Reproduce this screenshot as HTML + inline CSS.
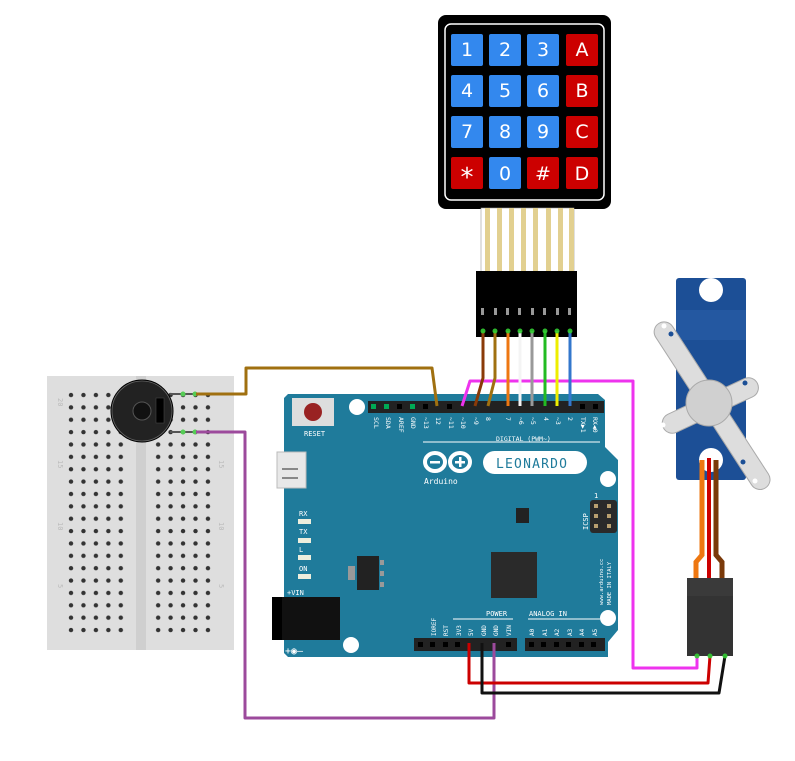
<!DOCTYPE html>
<html><head><meta charset="utf-8"><style>
html,body{margin:0;padding:0;background:#fff;width:795px;height:761px;overflow:hidden}
svg{display:block}
text{font-family:"DejaVu Sans Mono","Liberation Mono",monospace}
text.k{font-family:"DejaVu Sans","Liberation Sans",sans-serif}
</style></head><body>
<svg width="795" height="761" viewBox="0 0 795 761" xmlns="http://www.w3.org/2000/svg">
<defs>
<pattern id="holes" x="65" y="389" width="12.45" height="12.37" patternUnits="userSpaceOnUse">
<circle cx="6" cy="6" r="2.2" fill="#333"/>
</pattern>
</defs>

<!-- Breadboard -->
<rect x="47" y="376" width="187" height="274" fill="#dedede"/>
<rect x="136" y="376" width="10" height="274" fill="#cfcfcf"/>
<rect x="65" y="389" width="62" height="248" fill="url(#holes)"/>
<rect x="152" y="389" width="62" height="248" fill="url(#holes)"/>
<g fill="#bbb" font-size="7">
<text x="58" y="398" transform="rotate(90 58 398)">20</text>
<text x="58" y="460" transform="rotate(90 58 460)">15</text>
<text x="58" y="522" transform="rotate(90 58 522)">10</text>
<text x="58" y="584" transform="rotate(90 58 584)">5</text>
<text x="219" y="460" transform="rotate(90 219 460)">15</text>
<text x="219" y="522" transform="rotate(90 219 522)">10</text>
<text x="219" y="584" transform="rotate(90 219 584)">5</text>
</g>
<!-- buzzer -->
<circle cx="142" cy="411" r="31" fill="#222" stroke="#000"/>
<circle cx="142" cy="411" r="30" fill="none" stroke="#666" stroke-width="0.8"/>
<circle cx="142" cy="411" r="9" fill="#111" stroke="#555"/>
<rect x="156" y="398" width="8" height="25" fill="#000" stroke="#444" stroke-width="0.6"/>
<line x1="170" y1="394" x2="195" y2="394" stroke="#555" stroke-width="2"/>
<line x1="170" y1="432" x2="195" y2="432" stroke="#555" stroke-width="2"/>
<circle cx="183" cy="394" r="2.5" fill="#5c5"/><circle cx="195" cy="394" r="2.5" fill="#5c5"/>
<circle cx="183" cy="432" r="2.5" fill="#5c5"/><circle cx="195" cy="432" r="2.5" fill="#5c5"/>

<!-- Arduino board -->
<polygon points="284,398 288,394 598,394 605,400 605,447 618,460 618,630 608,642 608,657 288,657 284,653" fill="#1f7b9b"/>
<circle cx="357" cy="407" r="8" fill="#fff"/>
<circle cx="608" cy="479" r="8" fill="#fff"/>
<circle cx="608" cy="618" r="8" fill="#fff"/>
<circle cx="351" cy="645" r="8" fill="#fff"/>
<rect x="292" y="398" width="42" height="28" fill="#ddd"/>
<circle cx="313" cy="412" r="9" fill="#992222"/>
<text x="304" y="436" font-size="7" fill="#fff">RESET</text>
<rect x="277" y="452" width="29" height="36" fill="#e8e8e8" stroke="#bbb"/>
<rect x="282" y="468" width="16" height="2" fill="#888"/><rect x="282" y="477" width="16" height="2" fill="#888"/>
<rect x="368" y="401" width="134" height="12" fill="#222"/>
<rect x="502" y="401" width="102" height="12" fill="#222"/>
<g fill="#000">
<rect x="371" y="404" width="5" height="5" fill="#0a5"/><rect x="384" y="404" width="5" height="5" fill="#0a5"/>
<rect x="397" y="404" width="5" height="5"/><rect x="410" y="404" width="5" height="5" fill="#0a5"/>
<rect x="423" y="404" width="5" height="5"/><rect x="447" y="404" width="5" height="5"/>
<rect x="580" y="404" width="5" height="5"/><rect x="593" y="404" width="5" height="5"/>
</g>
<g fill="#fff" font-size="6.5">
<text transform="translate(374,417) rotate(90)">SCL</text>
<text transform="translate(386,417) rotate(90)">SDA</text>
<text transform="translate(399,417) rotate(90)">AREF</text>
<text transform="translate(411,417) rotate(90)">GND</text>
<text transform="translate(424,417) rotate(90)">~13</text>
<text transform="translate(436,417) rotate(90)">12</text>
<text transform="translate(449,417) rotate(90)">~11</text>
<text transform="translate(461,417) rotate(90)">~10</text>
<text transform="translate(474,417) rotate(90)">~9</text>
<text transform="translate(486,417) rotate(90)">8</text>
<text transform="translate(506,417) rotate(90)">7</text>
<text transform="translate(519,417) rotate(90)">~6</text>
<text transform="translate(531,417) rotate(90)">~5</text>
<text transform="translate(544,417) rotate(90)">4</text>
<text transform="translate(556,417) rotate(90)">~3</text>
<text transform="translate(568,417) rotate(90)">2</text>
<text transform="translate(581,417) rotate(90)">TX▶1</text>
<text transform="translate(593,417) rotate(90)">RX◀0</text>
<text x="496" y="441" font-size="6.5">DIGITAL (PWM~)</text>
</g>
<line x1="423" y1="442" x2="600" y2="442" stroke="#fff" stroke-width="1"/>
<g fill="none" stroke="#fff" stroke-width="4">
<ellipse cx="435" cy="462" rx="10" ry="9"/><ellipse cx="460" cy="462" rx="10" ry="9"/>
</g>
<rect x="430" y="461" width="10" height="2.5" fill="#fff"/>
<rect x="455" y="461" width="10" height="2.5" fill="#fff"/><rect x="459" y="457" width="2.5" height="10" fill="#fff"/>
<text x="424" y="484" font-size="8" fill="#fff">Arduino</text>
<rect x="483" y="451" width="104" height="23" rx="11.5" fill="#fff"/>
<text x="496" y="468" font-size="13" fill="#1f7b9b" letter-spacing="1.2">LEONARDO</text>
<rect x="516" y="508" width="13" height="15" fill="#222"/>
<rect x="491" y="552" width="46" height="46" fill="#2a2a2a"/>
<rect x="348" y="566" width="7" height="14" fill="#999"/>
<rect x="357" y="556" width="22" height="34" fill="#222"/>
<rect x="380" y="560" width="4" height="5" fill="#999"/><rect x="380" y="571" width="4" height="5" fill="#999"/><rect x="380" y="582" width="4" height="5" fill="#999"/>
<g fill="#fff" font-size="7">
<text x="299" y="516">RX</text><rect x="298" y="519" width="13" height="5" fill="#eed"/>
<text x="299" y="534">TX</text><rect x="298" y="538" width="13" height="5" fill="#eed"/>
<text x="299" y="552">L</text><rect x="298" y="555" width="13" height="5" fill="#eed"/>
<text x="299" y="571">ON</text><rect x="298" y="574" width="13" height="5" fill="#eed"/>
<text x="287" y="595">+VIN</text>
<text x="285" y="654" font-size="10">+◉–</text>
</g>
<rect x="272" y="597" width="68" height="43" fill="#111"/>
<rect x="272" y="597" width="10" height="43" fill="#000"/>
<rect x="590" y="500" width="27" height="33" rx="3" fill="#2a2a2a"/>
<g fill="#b9a070"><rect x="594" y="504" width="4" height="4"/><rect x="607" y="504" width="4" height="4"/><rect x="594" y="514" width="4" height="4"/><rect x="607" y="514" width="4" height="4"/><rect x="594" y="524" width="4" height="4"/><rect x="607" y="524" width="4" height="4"/></g>
<g fill="#fff" font-size="7">
<text x="594" y="498">1</text>
<text transform="translate(588,530) rotate(-90)">ICSP</text>
<text font-size="5.5" transform="translate(603,605) rotate(-90)">www.arduino.cc</text>
<text font-size="5.5" transform="translate(611,605) rotate(-90)">MADE IN ITALY</text>
<text x="486" y="616">POWER</text>
<text x="529" y="616">ANALOG IN</text>
</g>
<line x1="453" y1="619" x2="513" y2="619" stroke="#fff"/>
<line x1="528" y1="619" x2="600" y2="619" stroke="#fff"/>
<g fill="#fff" font-size="6">
<text transform="translate(436,636) rotate(-90)">IOREF</text>
<text transform="translate(448,636) rotate(-90)">RST</text>
<text transform="translate(461,636) rotate(-90)">3V3</text>
<text transform="translate(473,636) rotate(-90)">5V</text>
<text transform="translate(486,636) rotate(-90)">GND</text>
<text transform="translate(498,636) rotate(-90)">GND</text>
<text transform="translate(511,636) rotate(-90)">VIN</text>
<text transform="translate(534,636) rotate(-90)">A0</text>
<text transform="translate(547,636) rotate(-90)">A1</text>
<text transform="translate(559,636) rotate(-90)">A2</text>
<text transform="translate(572,636) rotate(-90)">A3</text>
<text transform="translate(584,636) rotate(-90)">A4</text>
<text transform="translate(597,636) rotate(-90)">A5</text>
</g>
<rect x="414" y="638" width="103" height="13" fill="#222"/>
<rect x="525" y="638" width="80" height="13" fill="#222"/>
<g fill="#000">
<rect x="418" y="642" width="5" height="5"/><rect x="430" y="642" width="5" height="5"/><rect x="443" y="642" width="5" height="5"/><rect x="455" y="642" width="5" height="5"/><rect x="506" y="642" width="5" height="5"/>
<rect x="529" y="642" width="5" height="5"/><rect x="541" y="642" width="5" height="5"/><rect x="554" y="642" width="5" height="5"/><rect x="566" y="642" width="5" height="5"/><rect x="579" y="642" width="5" height="5"/><rect x="591" y="642" width="5" height="5"/>
</g>

<!-- Keypad -->
<rect x="438" y="15" width="173" height="194" rx="8" fill="#000"/>
<rect x="445" y="24" width="159" height="176" rx="6" fill="none" stroke="#fff" stroke-width="1.5"/>
<g font-size="19" fill="#fff" text-anchor="middle">
<rect x="451" y="34" width="32" height="32" rx="2" fill="#3388ee"/><text class="k" x="467" y="56">1</text>
<rect x="489" y="34" width="32" height="32" rx="2" fill="#3388ee"/><text class="k" x="505" y="56">2</text>
<rect x="527" y="34" width="32" height="32" rx="2" fill="#3388ee"/><text class="k" x="543" y="56">3</text>
<rect x="566" y="34" width="32" height="32" rx="2" fill="#cc0000"/><text class="k" x="582" y="56">A</text>
<rect x="451" y="75" width="32" height="32" rx="2" fill="#3388ee"/><text class="k" x="467" y="97">4</text>
<rect x="489" y="75" width="32" height="32" rx="2" fill="#3388ee"/><text class="k" x="505" y="97">5</text>
<rect x="527" y="75" width="32" height="32" rx="2" fill="#3388ee"/><text class="k" x="543" y="97">6</text>
<rect x="566" y="75" width="32" height="32" rx="2" fill="#cc0000"/><text class="k" x="582" y="97">B</text>
<rect x="451" y="116" width="32" height="32" rx="2" fill="#3388ee"/><text class="k" x="467" y="138">7</text>
<rect x="489" y="116" width="32" height="32" rx="2" fill="#3388ee"/><text class="k" x="505" y="138">8</text>
<rect x="527" y="116" width="32" height="32" rx="2" fill="#3388ee"/><text class="k" x="543" y="138">9</text>
<rect x="566" y="116" width="32" height="32" rx="2" fill="#cc0000"/><text class="k" x="582" y="138">C</text>
<rect x="451" y="157" width="32" height="32" rx="2" fill="#cc0000"/><text class="k" x="467" y="186" font-size="26">*</text>
<rect x="489" y="157" width="32" height="32" rx="2" fill="#3388ee"/><text class="k" x="505" y="180">0</text>
<rect x="527" y="157" width="32" height="32" rx="2" fill="#cc0000"/><text class="k" x="543" y="180">#</text>
<rect x="566" y="157" width="32" height="32" rx="2" fill="#cc0000"/><text class="k" x="582" y="180">D</text>
</g>
<rect x="481" y="208" width="93" height="64" fill="#fff" stroke="#999" stroke-width="0.6"/>
<g fill="#e2d090">
<rect x="485" y="208" width="5" height="64"/><rect x="497" y="208" width="5" height="64"/><rect x="509" y="208" width="5" height="64"/><rect x="521" y="208" width="5" height="64"/>
<rect x="533" y="208" width="5" height="64"/><rect x="546" y="208" width="5" height="64"/><rect x="558" y="208" width="5" height="64"/><rect x="569" y="208" width="5" height="64"/>
</g>
<rect x="476" y="271" width="101" height="66" fill="#000"/>
<g fill="#999"><rect x="481" y="308" width="3" height="7"/><rect x="494" y="308" width="3" height="7"/><rect x="506" y="308" width="3" height="7"/><rect x="518" y="308" width="3" height="7"/><rect x="531" y="308" width="3" height="7"/><rect x="543" y="308" width="3" height="7"/><rect x="556" y="308" width="3" height="7"/><rect x="568" y="308" width="3" height="7"/></g>

<!-- Servo -->
<rect x="676" y="278" width="70" height="202" rx="3" fill="#1c4f96"/>
<circle cx="711" cy="290" r="12" fill="#fff"/>
<rect x="676" y="310" width="70" height="30" fill="#2a5fa8" opacity="0.6"/>
<circle cx="711" cy="460" r="12" fill="#fff"/>
<g transform="rotate(-33 711 404)">
<rect x="701" y="308" width="20" height="196" rx="10" fill="#ddd" stroke="#aaa"/>
</g>
<g transform="rotate(-25 709 405)">
<rect x="658" y="396" width="104" height="20" rx="10" fill="#ddd" stroke="#aaa"/>
</g>
<circle cx="709" cy="403" r="23" fill="#d0d0d0" stroke="#aaa"/>
<circle cx="664" cy="326" r="2.5" fill="#fff"/><circle cx="671" cy="334" r="2.5" fill="#1c4f96"/>
<circle cx="663" cy="425" r="2.5" fill="#fff"/><circle cx="745" cy="383" r="2.5" fill="#1c4f96"/>
<circle cx="755" cy="481" r="2.5" fill="#fff"/><circle cx="743" cy="462" r="2.5" fill="#1c4f96"/>
<path d="M702,460 V555 L696,562 V580" stroke="#ee7711" stroke-width="5" fill="none"/>
<path d="M716,460 V555 L722,562 V580" stroke="#7a3a0a" stroke-width="5" fill="none"/>
<path d="M709,458 V580" stroke="#cc0000" stroke-width="4" fill="none"/>
<rect x="687" y="578" width="46" height="78" fill="#333"/>
<rect x="687" y="578" width="46" height="18" fill="#3a3a3a"/>

<!-- Wires -->
<g fill="none" stroke-width="3" stroke-linejoin="round">
<path d="M437,406 L432,368 H246 V394 H196" stroke="#a07010"/>
<path d="M494,643 V718 H245 V432 H196" stroke="#9c4a9c"/>
<path d="M462,406 L470,381 H633 V668 H697 V656" stroke="#ee33ee"/>
<path d="M469,643 V683 H708 L710,656" stroke="#cc0000"/>
<path d="M482,643 V693 H719 L725,656" stroke="#111"/>
<path d="M483,331 V378 L475,406" stroke="#8a3a08"/>
<path d="M495,331 V378 L488,406" stroke="#a07010"/>
<path d="M508,331 V406" stroke="#ee7711"/>
<path d="M520,331 V406" stroke="#f4f4f4"/>
<path d="M532,331 V406" stroke="#999"/>
<path d="M545,331 V406" stroke="#22bb22"/>
<path d="M557,331 V406" stroke="#eeee00"/>
<path d="M570,331 V406" stroke="#3377cc"/>
</g>
<g fill="#3c3" opacity="0.9">
<circle cx="483" cy="331" r="2.5"/><circle cx="495" cy="331" r="2.5"/><circle cx="508" cy="331" r="2.5"/><circle cx="520" cy="331" r="2.5"/><circle cx="532" cy="331" r="2.5"/><circle cx="545" cy="331" r="2.5"/><circle cx="557" cy="331" r="2.5"/><circle cx="570" cy="331" r="2.5"/>
<circle cx="697" cy="656" r="2.5"/><circle cx="710" cy="656" r="2.5"/><circle cx="725" cy="656" r="2.5"/>
</g>
</svg>
</body></html>
